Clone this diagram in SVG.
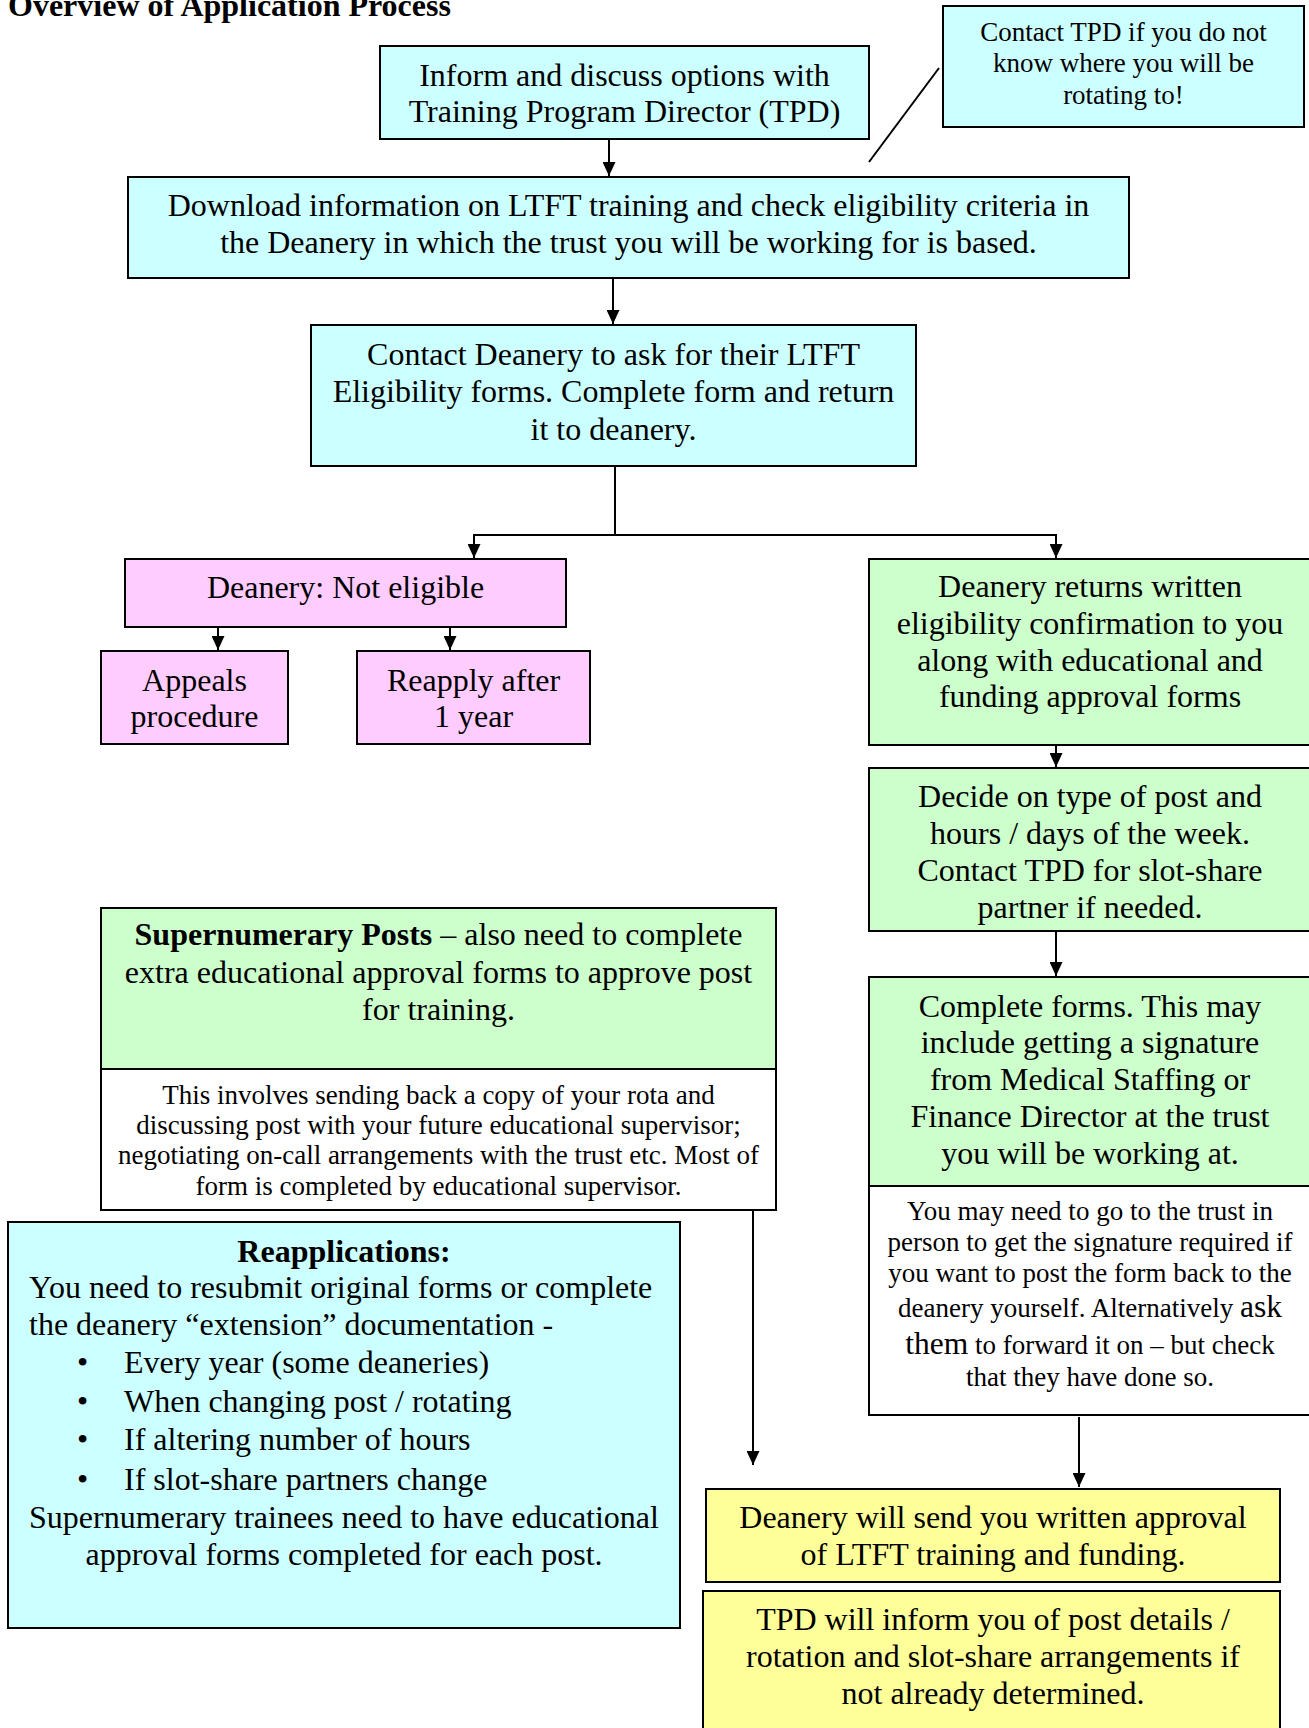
<svg xmlns="http://www.w3.org/2000/svg" width="1309" height="1728" viewBox="0 0 1309 1728">
<style>
text{font-family:"Liberation Serif","Times New Roman",serif;fill:#000}
.m{font-size:32px;text-anchor:middle}
.s{font-size:27px;text-anchor:middle}
.l{font-size:32px}
.b{font-weight:bold}
.box{stroke:#000;stroke-width:2}
.cy{fill:#CCFFFF}.pk{fill:#FFCCFF}.gr{fill:#CCFFCC}.ye{fill:#FFFF99}.wh{fill:#FFFFFF}
.c{stroke:#000;stroke-width:2;fill:none}
</style>
<defs>
<marker id="ah" markerUnits="userSpaceOnUse" markerWidth="14" markerHeight="13" refX="14" refY="6.5" orient="auto" viewBox="0 0 14 13">
<path d="M0,0 L14,6.5 L0,13 z" fill="#000"/>
</marker>
</defs>
<rect width="1309" height="1728" fill="#fff"/>
<text x="8" y="16" font-size="32" class="b">Overview of Application Process</text>

<g id="connectors">
<line class="c" x1="939" y1="68" x2="869" y2="162" stroke-width="1.5"/>
<line class="c" x1="609" y1="139" x2="609" y2="176" marker-end="url(#ah)"/>
<line class="c" x1="613" y1="278" x2="613" y2="324" marker-end="url(#ah)"/>
<line class="c" x1="615" y1="466" x2="615" y2="535" stroke-width="1.3"/>
<polyline class="c" points="474,558 474,535 1056,535 1056,558" stroke-width="2.5"/>
<line class="c" x1="474" y1="540" x2="474" y2="558" marker-end="url(#ah)"/>
<line class="c" x1="1056" y1="540" x2="1056" y2="558" marker-end="url(#ah)"/>
<line class="c" x1="218" y1="627" x2="218" y2="650" marker-end="url(#ah)"/>
<line class="c" x1="450" y1="627" x2="450" y2="650" marker-end="url(#ah)"/>
<line class="c" x1="1056" y1="745" x2="1056" y2="767" marker-end="url(#ah)"/>
<line class="c" x1="1056" y1="931" x2="1056" y2="976" marker-end="url(#ah)"/>
<line class="c" x1="753" y1="1210" x2="753" y2="1465" marker-end="url(#ah)"/>
<line class="c" x1="1079" y1="1417" x2="1079" y2="1487" marker-end="url(#ah)"/>
</g>

<g id="inform">
<rect class="box cy" x="380" y="46" width="489" height="93"/>
<text class="m" x="624.5" y="86">Inform and discuss options with</text>
<text class="m" x="624.5" y="122">Training Program Director (TPD)</text>
</g>

<g id="contact-tpd">
<rect class="box cy" x="943" y="6" width="361" height="121"/>
<text class="s" x="1123.5" y="41">Contact TPD if you do not</text>
<text class="s" x="1123.5" y="72">know where you will be</text>
<text class="s" x="1123.5" y="104">rotating to!</text>
</g>

<g id="download">
<rect class="box cy" x="128" y="177" width="1001" height="101"/>
<text class="m" x="628.5" y="216">Download information on LTFT training and check eligibility criteria in</text>
<text class="m" x="628.5" y="253">the Deanery in which the trust you will be working for is based.</text>
</g>

<g id="contact-deanery">
<rect class="box cy" x="311" y="325" width="605" height="141"/>
<text class="m" x="613.5" y="365">Contact Deanery to ask for their LTFT</text>
<text class="m" x="613.5" y="402">Eligibility forms. Complete form and return</text>
<text class="m" x="613.5" y="440">it to deanery.</text>
</g>

<g id="not-eligible">
<rect class="box pk" x="125" y="559" width="441" height="68"/>
<text class="m" x="345.5" y="598">Deanery: Not eligible</text>
</g>

<g id="appeals">
<rect class="box pk" x="101" y="651" width="187" height="93"/>
<text class="m" x="194.5" y="691">Appeals</text>
<text class="m" x="194.5" y="727">procedure</text>
</g>

<g id="reapply">
<rect class="box pk" x="357" y="651" width="233" height="93"/>
<text class="m" x="473.5" y="691">Reapply after</text>
<text class="m" x="473.5" y="727">1 year</text>
</g>

<g id="returns">
<rect class="box gr" x="869" y="559" width="443" height="186"/>
<text class="m" x="1090" y="597">Deanery returns written</text>
<text class="m" x="1090" y="634">eligibility confirmation to you</text>
<text class="m" x="1090" y="671">along with educational and</text>
<text class="m" x="1090" y="707">funding approval forms</text>
</g>

<g id="decide">
<rect class="box gr" x="869" y="768" width="443" height="163"/>
<text class="m" x="1090" y="807">Decide on type of post and</text>
<text class="m" x="1090" y="844">hours / days of the week.</text>
<text class="m" x="1090" y="881">Contact TPD for slot-share</text>
<text class="m" x="1090" y="918">partner if needed.</text>
</g>

<g id="complete">
<rect class="box gr" x="869" y="977" width="443" height="209"/>
<rect class="box wh" x="869" y="1186" width="443" height="229"/>
<text class="m" x="1090" y="1017">Complete forms. This may</text>
<text class="m" x="1090" y="1053">include getting a signature</text>
<text class="m" x="1090" y="1090">from Medical Staffing or</text>
<text class="m" x="1090" y="1127">Finance Director at the trust</text>
<text class="m" x="1090" y="1164">you will be working at.</text>
<text class="s" x="1090" y="1220">You may need to go to the trust in</text>
<text class="s" x="1090" y="1251">person to get the signature required if</text>
<text class="s" x="1090" y="1282">you want to post the form back to the</text>
<text class="s" x="1090" y="1317">deanery yourself. Alternatively <tspan font-size="31.5">ask</tspan></text>
<text class="s" x="1090" y="1354"><tspan font-size="31.5">them</tspan> to forward it on – but check</text>
<text class="s" x="1090" y="1386">that they have done so.</text>
</g>

<g id="supernumerary">
<rect class="box gr" x="101" y="908" width="675" height="161"/>
<rect class="box wh" x="101" y="1069" width="675" height="141"/>
<text class="m" x="438.5" y="945"><tspan class="b">Supernumerary Posts</tspan> – also need to complete</text>
<text class="m" x="438.5" y="983">extra educational approval forms to approve post</text>
<text class="m" x="438.5" y="1020">for training.</text>
<text class="s" x="438.5" y="1104">This involves sending back a copy of your rota and</text>
<text class="s" x="438.5" y="1134">discussing post with your future educational supervisor;</text>
<text class="s" x="438.5" y="1164">negotiating on-call arrangements with the trust etc. Most of</text>
<text class="s" x="438.5" y="1195">form is completed by educational supervisor.</text>
</g>

<g id="reapplications">
<rect class="box cy" x="8" y="1222" width="672" height="406"/>
<text class="m b" x="344" y="1262">Reapplications:</text>
<text class="l" x="29" y="1298">You need to resubmit original forms or complete</text>
<text class="l" x="29" y="1335">the deanery “extension” documentation -</text>
<text class="l" x="77" y="1373">•</text><text class="l" x="124" y="1373">Every year (some deaneries)</text>
<text class="l" x="77" y="1412">•</text><text class="l" x="124" y="1412">When changing post / rotating</text>
<text class="l" x="77" y="1450">•</text><text class="l" x="124" y="1450">If altering number of hours</text>
<text class="l" x="77" y="1490">•</text><text class="l" x="124" y="1490">If slot-share partners change</text>
<text class="l" x="29" y="1528">Supernumerary trainees need to have educational</text>
<text class="m" x="344" y="1565">approval forms completed for each post.</text>
</g>

<g id="approval">
<rect class="box ye" x="706" y="1489" width="574" height="93"/>
<text class="m" x="993" y="1528">Deanery will send you written approval</text>
<text class="m" x="993" y="1565">of LTFT training and funding.</text>
</g>

<g id="tpd-inform">
<rect class="box ye" x="703" y="1591" width="577" height="145"/>
<text class="m" x="993" y="1630">TPD will inform you of post details /</text>
<text class="m" x="993" y="1667">rotation and slot-share arrangements if</text>
<text class="m" x="993" y="1704">not already determined.</text>
</g>
</svg>
